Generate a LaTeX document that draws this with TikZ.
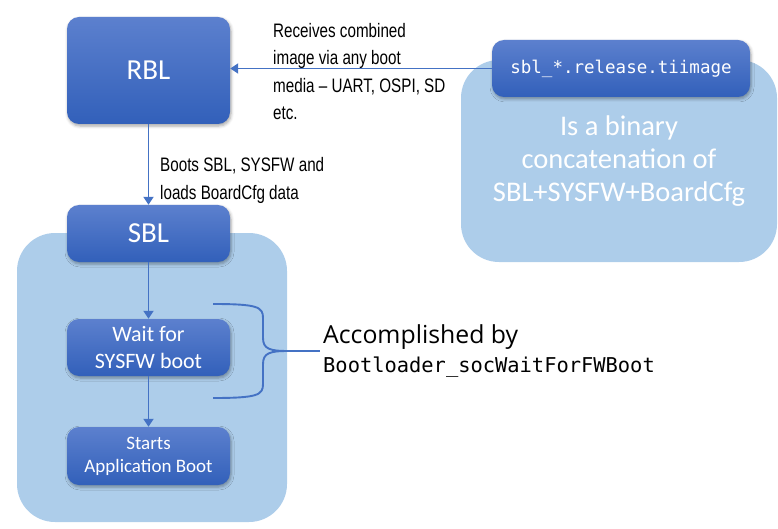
\documentclass[tikz,border=0pt]{standalone}
\usepackage{fontspec}
\setmainfont{Carlito}
\newfontfamily\condfont[FakeStretch=0.78]{Liberation Sans}
\newfontfamily\segfont{Open Sans}
\newfontfamily\codefont{DejaVu Sans Mono}
\usetikzlibrary{arrows.meta,shadows.blur}
\definecolor{boxtop}{RGB}{92,128,206}
\definecolor{boxbot}{RGB}{50,96,186}
\definecolor{pale}{RGB}{173,205,234}
\definecolor{linec}{RGB}{68,114,196}
\begin{document}
\begin{tikzpicture}[x=1pt,y=-1pt,
 bluebox/.style={rectangle, rounded corners=12pt, top color=boxtop, bottom color=boxbot, text=white, align=center, minimum width=163pt, inner sep=0pt,
   blur shadow={shadow xshift=1pt,shadow yshift=-2pt,shadow blur radius=3pt,shadow opacity=35}},
 container/.style={rectangle, rounded corners=38pt, fill=pale, inner sep=0pt},
 flow/.style={draw=linec, line width=1.9pt, -{Triangle[width=10pt,length=8pt]}},
 lbl/.style={font=\condfont\fontsize{19.5}{27.5}\selectfont, align=left, anchor=west, inner sep=0pt}
]
\useasboundingbox (0,0) rectangle (778,529);
\node[container, minimum width=270pt, minimum height=289pt] (sblgroup) at (152,377.5) {};
\node[container, minimum width=316pt, minimum height=202pt] (imggroup) at (619,161) {};
\node[bluebox, minimum height=107pt, font=\fontsize{29}{30}\selectfont] (rbl) at (148.5,70.5) {RBL};
\node[bluebox, minimum height=57pt, font=\fontsize{29}{30}\selectfont] (sbl) at (148.5,233.5) {SBL};
\node[bluebox, minimum height=57pt, font=\fontsize{22}{27}\selectfont] (wait) at (148.5,347.5) {Wait for\\SYSFW boot};
\node[bluebox, minimum height=58pt, font=\fontsize{19}{23}\selectfont] (starts) at (148.5,456) {Starts\\Application Boot};
\node[bluebox, minimum width=258pt, minimum height=57pt, font=\codefont\fontsize{17.5}{19}\selectfont] (img) at (621,68.5) {sbl\_*.release.tiimage};
\node[text=white, font=\fontsize{28.5}{33}\selectfont, align=center, inner sep=0pt] (concat) at (619,161) {Is a binary\\concatenation of\\SBL+SYSFW+BoardCfg};
\node[lbl] (recv) at (273,71.5) {Receives combined\\image via any boot\\media – UART, OSPI, SD\\etc.};
\node[lbl] (boots) at (160,180.5) {Boots SBL, SYSFW and\\loads BoardCfg data};
\node[anchor=base west, inner sep=0pt, font=\segfont\fontsize{24.8}{26}\selectfont] (acc) at (323,343) {Accomplished by};
\node[anchor=base west, inner sep=0pt, font=\codefont\fontsize{20.4}{22}\selectfont] (fn) at (323,372) {Bootloader\_socWaitForFWBoot};
\draw[flow] (img.west) -- (img.west -| rbl.east);
\draw[flow] (rbl.south) -- (sbl.north);
\draw[flow] (sbl.south) -- (wait.north);
\draw[flow] (wait.south) -- (starts.north);
\coordinate (btop) at (213,304);
\coordinate (bbot) at (213,398);
\coordinate (btip) at (288,351);
\coordinate (bend) at (320,351);
\draw[linec, line width=1.9pt] (btop) .. controls (258,304) and (263,307) .. (263,318) -- (263,338) .. controls (263,349) and (270,351) .. (btip) .. controls (270,351) and (263,353) .. (263,364) -- (263,384) .. controls (263,395) and (258,398) .. (bbot);
\draw[linec, line width=1.9pt] (btip) -- (bend);
\end{tikzpicture}
\end{document}
